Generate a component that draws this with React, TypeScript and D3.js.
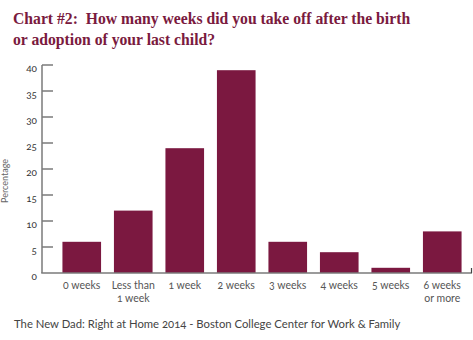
import React from "react";
import * as d3 from "d3";

const categories = [
  ["0 weeks"],
  ["Less than", "1 week"],
  ["1 week"],
  ["2 weeks"],
  ["3 weeks"],
  ["4 weeks"],
  ["5 weeks"],
  ["6 weeks", "or more"],
];
const values = [6, 12, 24, 39, 6, 4, 1, 8];
const yTicks = [0, 5, 10, 15, 20, 25, 30, 35, 40];
const titleLines = [
  "Chart #2:  How many weeks did you take off after the birth",
  "or adoption of your last child?",
];
const yLabel = "Percentage";
const footer = "The New Dad: Right at Home 2014 - Boston College Center for Work & Family";

const W = 473;
const H = 340;
const barColor = "#7b1840";
const titleColor = "#7a1a3e";
const axisColor = "#7a7a7a";
const sans = "Lato, 'Open Sans', sans-serif";

export default function App() {
  const x = d3
    .scaleBand<number>()
    .domain(d3.range(values.length))
    .range([56, 468])
    .paddingInner(0.25)
    .paddingOuter(0.125);
  const y = d3.scaleLinear().domain([0, 40]).range([273, 65]);

  return (
    <svg
      width={W}
      height={H}
      style={{ position: "absolute", left: 0, top: 0, background: "#fff" }}
    >
      {titleLines.map((t, i) => (
        <text
          key={i}
          x={13}
          y={24 + i * 21}
          fill={titleColor}
          fontFamily="'Liberation Serif', serif"
          fontWeight={700}
          fontSize={15.7}
          style={{ whiteSpace: "pre" }}
        >
          {t}
        </text>
      ))}

      {/* bars */}
      {values.map((v, i) => (
        <rect
          key={i}
          x={x(i)}
          y={y(v)}
          width={x.bandwidth()}
          height={y(0) - y(v)}
          fill={barColor}
        />
      ))}

      {/* y axis */}
      <line x1={42} x2={42} y1={y(40)} y2={y(0)} stroke={axisColor} strokeWidth={1.5} />
      {yTicks.map((t) => (
        <g key={t}>
          {t > 0 && (
            <line x1={42} x2={53} y1={y(t)} y2={y(t)} stroke={axisColor} strokeWidth={1.5} />
          )}
          <text
            x={37}
            y={y(t) + 7}
            textAnchor="end"
            fontFamily={sans}
            fontSize={10}
            fill="#333"
            style={{ fontVariantNumeric: "oldstyle-nums" }}
          >
            {t}
          </text>
        </g>
      ))}

      {/* x axis */}
      <line x1={41.25} x2={472} y1={y(0)} y2={y(0)} stroke={axisColor} strokeWidth={1.5} />
      <line x1={471.5} x2={471.5} y1={y(0) - 5} y2={y(0)} stroke="#444" strokeWidth={1.2} />

      {categories.map((lines, i) => (
        <text
          key={i}
          x={(x(i) as number) + x.bandwidth() / 2}
          y={289}
          textAnchor="middle"
          fontFamily={sans}
          fontSize={10.5}
          fill="#555"
          style={{ fontVariantNumeric: "oldstyle-nums" }}
        >
          {lines.map((l, j) => (
            <tspan key={j} x={(x(i) as number) + x.bandwidth() / 2} dy={j === 0 ? 0 : 13}>
              {l}
            </tspan>
          ))}
        </text>
      ))}

      <text
        transform={`translate(8,181) rotate(-90)`}
        textAnchor="middle"
        fontFamily={sans}
        fontSize={9}
        fill="#666"
      >
        {yLabel}
      </text>

      <text
        x={14}
        y={328}
        fontFamily={sans}
        fontSize={11.3}
        fill="#444"
        style={{ fontVariantNumeric: "oldstyle-nums" }}
      >
        {footer}
      </text>
    </svg>
  );
}
